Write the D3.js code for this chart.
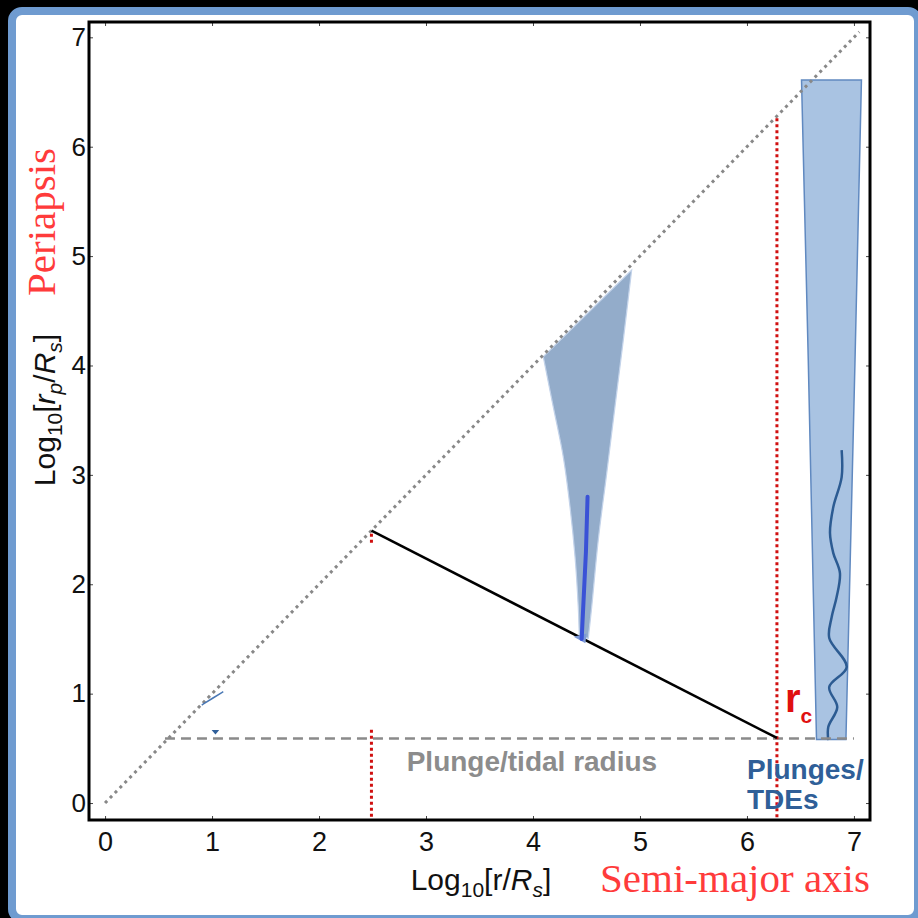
<!DOCTYPE html>
<meta charset="utf-8">
<style>
body { margin: 0; background: #000; }
svg { display: block; }
.tick text { font-family: "Liberation Sans", Arial, sans-serif; fill: #111; }
.tick line { stroke: #444; }
.domain { display: none; }
</style>
<svg width="918" height="918"></svg>
<script src="https://d3js.org/d3.v7.min.js"></script>
<script>
// ticks
var xTicks = [0, 1, 2, 3, 4, 5, 6, 7];
var yTicks = [0, 1, 2, 3, 4, 5, 6, 7];

// reference lines
var diagonal = [[0, 0], [7.05, 7.05]];
var tidalLine = [[0.56, 0.59], [7.0, 0.59]];
var slopeLine = [[2.49, 2.49], [6.28, 0.595]];
var rcLine = [[6.28, 6.26], [6.28, -0.14]];
var aLine = [[2.49, 0.67], [2.49, -0.14]];
var aStub = [[2.49, 2.38], [2.49, 2.47]];

// middle funnel
var funnelLeft = [[4.096, 4.08], [4.19, 3.62], [4.283, 3.165], [4.346, 2.708], [4.393, 2.251], [4.423, 1.794], [4.433, 1.52]];
var funnelRight = [[4.922, 4.872], [4.844, 4.232], [4.766, 3.622], [4.689, 3.014], [4.61, 2.404], [4.549, 1.794], [4.517, 1.505]];
var funnelCore = [[4.51, 2.80], [4.495, 2.3], [4.475, 1.9], [4.455, 1.5]];
var funnelFoot = [[4.38, 1.52], [4.50, 1.55], [4.49, 1.46]];

// tall column on the right
var column = [[6.51, 6.61], [7.07, 6.61], [7.01, 4.05], [6.925, 0.58], [6.65, 0.58], [6.573, 4.05]];
var wave = [[6.885, 3.227], [6.885, 2.98], [6.807, 2.706], [6.776, 2.468], [6.807, 2.285], [6.869, 2.102],
            [6.838, 1.883], [6.792, 1.70], [6.769, 1.508], [6.932, 1.243], [6.769, 1.06], [6.844, 0.877],
            [6.76, 0.695], [6.76, 0.576]];

// small marks near a = 10
var smallTrack = [[0.904, 0.896], [1.0, 0.955], [1.105, 1.018]];
var smallMarker = [[0.996, 0.667], [1.067, 0.667], [1.032, 0.626]];

var svg = d3.select("svg");

var x = d3.scaleLinear().domain([-0.15, 7.15]).range([89, 870]);
var y = d3.scaleLinear().domain([-0.155, 7.14]).range([820, 22]);

var line = d3.line().x(function(d) { return x(d[0]); }).y(function(d) { return y(d[1]); });
var smooth = d3.line().curve(d3.curveCatmullRom)
    .x(function(d) { return x(d[0]); }).y(function(d) { return y(d[1]); });

// panel
svg.append("rect").attr("width", 918).attr("height", 918).attr("fill", "#000");
svg.append("rect")
    .attr("x", 12).attr("y", 11).attr("width", 906).attr("height", 908)
    .attr("rx", 10)
    .attr("fill", "#fff")
    .attr("stroke", "#6f9bd0")
    .attr("stroke-width", 8);

// axes (inward ticks)
svg.append("g")
    .attr("transform", "translate(0,820)")
    .call(d3.axisBottom(x).tickValues(xTicks).tickSizeInner(-4).tickSizeOuter(0).tickPadding(12))
    .selectAll("text").style("font-size", "27px");
svg.append("g")
    .attr("transform", "translate(0,22)")
    .call(d3.axisTop(x).tickValues(xTicks).tickSizeInner(-4).tickSizeOuter(0).tickFormat(""));
svg.append("g")
    .attr("transform", "translate(89,0)")
    .call(d3.axisLeft(y).tickValues(yTicks).tickSizeInner(-4).tickSizeOuter(0).tickPadding(3))
    .selectAll("text").style("font-size", "26px");
svg.append("g")
    .attr("transform", "translate(870,0)")
    .call(d3.axisRight(y).tickValues(yTicks).tickSizeInner(-4).tickSizeOuter(0).tickFormat(""));

// shapes
svg.append("path")
    .attr("d", line(column) + "Z")
    .attr("fill", "#a9c3e2")
    .attr("stroke", "#6089c0")
    .attr("stroke-width", 1.5);

svg.append("path")
    .attr("d", smooth(wave))
    .attr("fill", "none")
    .attr("stroke", "#2c5b92")
    .attr("stroke-width", 2.5);

// funnel: smooth left edge down, smooth right edge back up
var funnelPath = smooth(funnelLeft) + "L" + smooth(funnelRight.slice().reverse()).slice(1) + "Z";
svg.append("path")
    .attr("d", funnelPath)
    .attr("fill", "#93acca")
    .attr("stroke", "#c3d3ea")
    .attr("stroke-width", 1.2);

// reference lines
svg.append("path").attr("d", line(diagonal))
    .attr("fill", "none").attr("stroke", "#888").attr("stroke-width", 3)
    .attr("stroke-dasharray", "3,4");

svg.append("path").attr("d", line(tidalLine))
    .attr("fill", "none").attr("stroke", "#8a8a8a").attr("stroke-width", 2.5)
    .attr("stroke-dasharray", "10,6");

[rcLine, aLine, aStub].forEach(function(seg) {
    svg.append("path").attr("d", line(seg))
        .attr("fill", "none").attr("stroke", "#d01010").attr("stroke-width", 3)
        .attr("stroke-dasharray", "3,3");
});

svg.append("path").attr("d", line(slopeLine))
    .attr("fill", "none").attr("stroke", "#000").attr("stroke-width", 2.5);

svg.append("path").attr("d", line(funnelFoot) + "Z")
    .attr("fill", "#7d9ad6").attr("stroke", "none");
svg.append("path").attr("d", line(funnelCore))
    .attr("fill", "none").attr("stroke", "#3a52d6").attr("stroke-width", 4)
    .attr("stroke-linecap", "round");

svg.append("path").attr("d", d3.line().curve(d3.curveBasis)
        .x(function(d) { return x(d[0]); }).y(function(d) { return y(d[1]); })(smallTrack))
    .attr("fill", "none").attr("stroke", "#4a78b5").attr("stroke-width", 1.5);
svg.append("path").attr("d", line(smallMarker) + "Z")
    .attr("fill", "#2f5f9a");

// frame
svg.append("rect")
    .attr("x", 89).attr("y", 22).attr("width", 781).attr("height", 798)
    .attr("fill", "none").attr("stroke", "#000").attr("stroke-width", 3);

// labels
var sans = "'Liberation Sans', Arial, sans-serif";
var serif = "'Liberation Serif', 'Times New Roman', serif";

svg.append("text")
    .attr("x", x(3.99)).attr("y", 771)
    .attr("text-anchor", "middle")
    .style("font-family", sans).style("font-weight", "bold").style("font-size", "28px")
    .attr("fill", "#8c8c8c")
    .text("Plunge/tidal radius");

var tde = svg.append("text")
    .style("font-family", sans).style("font-weight", "bold").style("font-size", "28px")
    .attr("fill", "#2f5f98");
tde.append("tspan").attr("x", 747).attr("y", 779).text("Plunges/");
tde.append("tspan").attr("x", 747).attr("y", 809).text("TDEs");

var rc = svg.append("text")
    .attr("x", 785).attr("y", 712)
    .style("font-family", sans).style("font-weight", "bold")
    .attr("fill", "#e01010");
rc.append("tspan").style("font-size", "40px").text("r");
rc.append("tspan").style("font-size", "21px").attr("dy", 11).text("c");

// x title
var xt = svg.append("text")
    .attr("x", 481).attr("y", 890)
    .attr("text-anchor", "middle")
    .style("font-family", sans).style("font-size", "30px")
    .attr("fill", "#111");
xt.append("tspan").text("Log");
xt.append("tspan").style("font-size", "21px").attr("dy", 7).text("10");
xt.append("tspan").attr("dy", -7).text("[r/");
xt.append("tspan").style("font-style", "italic").text("R");
xt.append("tspan").style("font-style", "italic").style("font-size", "21px").attr("dy", 7).text("s");
xt.append("tspan").attr("dy", -7).text("]");

svg.append("text")
    .attr("x", 735).attr("y", 892)
    .attr("text-anchor", "middle")
    .style("font-family", serif).style("font-size", "41px")
    .attr("fill", "#ff3b3b")
    .text("Semi-major axis");

// y title
var yt = svg.append("text")
    .attr("transform", "translate(55,410) rotate(-90)")
    .attr("text-anchor", "middle")
    .style("font-family", sans).style("font-size", "30px")
    .attr("fill", "#111");
yt.append("tspan").text("Log");
yt.append("tspan").style("font-size", "21px").attr("dy", 7).text("10");
yt.append("tspan").attr("dy", -7).text("[");
yt.append("tspan").style("font-style", "italic").text("r");
yt.append("tspan").style("font-style", "italic").style("font-size", "21px").attr("dy", 7).text("p");
yt.append("tspan").attr("dy", -7).text("/");
yt.append("tspan").style("font-style", "italic").text("R");
yt.append("tspan").style("font-style", "italic").style("font-size", "21px").attr("dy", 7).text("s");
yt.append("tspan").attr("dy", -7).text("]");

svg.append("text")
    .attr("transform", "translate(55,222) rotate(-90)")
    .attr("text-anchor", "middle")
    .style("font-family", serif).style("font-size", "41px")
    .attr("fill", "#ff3b3b")
    .text("Periapsis");
</script>
